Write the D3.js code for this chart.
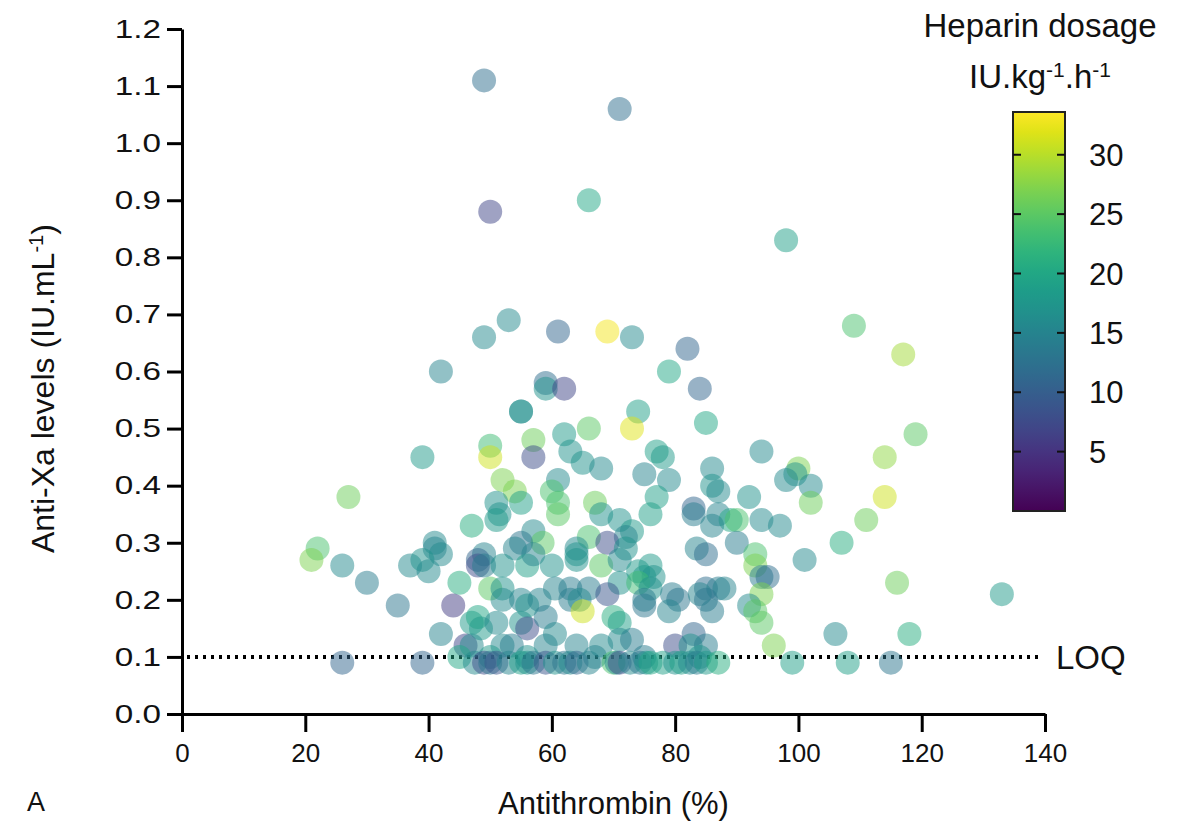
<!DOCTYPE html>
<html>
<head>
<meta charset="utf-8">
<script src="https://cdn.jsdelivr.net/npm/d3@7"></script>
<style>
  body { margin: 0; background: #fff; }
  svg { display: block; }
  text { font-family: "Liberation Sans", Arial, Helvetica, sans-serif; fill: #111; }
</style>
</head>
<body>
<svg id="chart" width="1184" height="828"></svg>
<script>
// Antithrombin activity (%) for each sample
const antithrombin = [
  49, 71, 50, 66, 98, 53, 49, 61, 69, 73, 82, 109, 117, 42, 79, 59, 59, 62, 84, 55,
  55, 74, 85, 50, 73, 57, 62, 66, 94, 119, 50, 39, 57, 63, 65, 77, 78, 75, 68, 86,
  79, 100, 99.5, 98, 114, 102, 52, 61, 86, 87, 54, 60, 77, 27, 114, 102, 67, 51, 61, 55,
  47, 51.5, 61, 68, 76, 83, 83, 87, 92, 89, 90, 94, 86, 97, 111, 107, 71, 73, 51, 57,
  66, 58.5, 72, 69, 72, 90, 55, 54, 41, 41, 42, 49, 64, 64, 83.5, 85, 93, 22, 21, 26,
  30, 35, 37, 39, 40, 48, 48, 49, 52, 56, 57, 60, 64, 68, 71, 74, 76, 75, 76.5, 93,
  94, 95, 101, 45, 50, 52, 60.5, 63, 66, 71, 74, 76, 85, 87, 88, 116, 133, 94, 44, 52,
  55, 56, 58, 63, 64.5, 69, 75, 75, 79.5, 80.5, 84, 85, 86, 92, 93, 94, 79, 42, 47, 48,
  48.5, 51, 55, 56, 59, 60.5, 65, 70, 71, 83, 106, 118, 96, 46, 47, 52, 53.5, 59, 64, 68,
  71, 73, 80, 82.5, 85,
  45, 50, 56, 67, 75, 84,
  26, 39, 47.5, 49, 50, 51, 53, 55, 56, 57, 59, 60.5, 62, 63, 64, 66, 70, 70.5, 71, 72.7,
  74.3, 75.3, 76, 78, 80, 81, 82.4, 83.5, 85, 87, 99, 108, 115
];

// Anti-Xa activity (IU/mL) for each sample
const antiXa = [
  1.11, 1.06, 0.88, 0.90, 0.83, 0.69, 0.66, 0.67, 0.67, 0.66, 0.64, 0.68, 0.63, 0.60, 0.60, 0.58, 0.57, 0.57, 0.57, 0.53,
  0.53, 0.53, 0.51, 0.47, 0.50, 0.48, 0.49, 0.50, 0.46, 0.49, 0.45, 0.45, 0.45, 0.46, 0.44, 0.46, 0.45, 0.42, 0.43, 0.43,
  0.41, 0.43, 0.42, 0.41, 0.45, 0.40, 0.41, 0.41, 0.40, 0.39, 0.39, 0.39, 0.38, 0.38, 0.38, 0.37, 0.37, 0.37, 0.37, 0.37,
  0.33, 0.35, 0.35, 0.35, 0.35, 0.36, 0.35, 0.35, 0.38, 0.34, 0.34, 0.34, 0.33, 0.33, 0.34, 0.30, 0.34, 0.32, 0.34, 0.32,
  0.31, 0.30, 0.31, 0.30, 0.29, 0.30, 0.30, 0.29, 0.30, 0.29, 0.28, 0.28, 0.29, 0.28, 0.29, 0.28, 0.28, 0.29, 0.27, 0.26,
  0.23, 0.19, 0.26, 0.27, 0.25, 0.27, 0.26, 0.26, 0.26, 0.26, 0.28, 0.26, 0.27, 0.26, 0.27, 0.25, 0.26, 0.24, 0.24, 0.26,
  0.24, 0.24, 0.27, 0.23, 0.22, 0.22, 0.22, 0.22, 0.22, 0.23, 0.23, 0.22, 0.22, 0.22, 0.22, 0.23, 0.21, 0.21, 0.19, 0.20,
  0.20, 0.19, 0.20, 0.20, 0.20, 0.21, 0.19, 0.20, 0.21, 0.20, 0.21, 0.20, 0.18, 0.19, 0.18, 0.16, 0.18, 0.14, 0.16, 0.17,
  0.15, 0.16, 0.16, 0.15, 0.17, 0.14, 0.18, 0.17, 0.16, 0.14, 0.14, 0.14, 0.12, 0.12, 0.12, 0.12, 0.12, 0.12, 0.12, 0.12,
  0.13, 0.13, 0.12, 0.12, 0.12,
  0.10, 0.10, 0.10, 0.10, 0.10, 0.10,
  0.09, 0.09, 0.09, 0.09, 0.09, 0.09, 0.09, 0.09, 0.09, 0.09, 0.09, 0.09, 0.09, 0.09, 0.09, 0.09, 0.09, 0.09, 0.09, 0.09,
  0.09, 0.09, 0.09, 0.09, 0.09, 0.09, 0.09, 0.09, 0.09, 0.09, 0.09, 0.09, 0.09
];

// Heparin dosage (IU/kg/h) for each sample
const dosage = [
  12, 12, 7, 20, 19, 16, 16, 11, 33, 16, 11, 24, 29, 15, 20, 12, 17, 7, 11, 16,
  17, 19, 20, 23, 32, 26, 18, 25, 16, 25, 31, 18, 8, 17, 17, 19, 18, 15, 16, 16,
  16, 27, 17, 16, 28, 16, 27, 16, 17, 16, 27, 24, 19, 26, 31, 26, 26, 17, 24, 19,
  21, 17, 25, 17, 19, 11, 14, 15, 17, 20, 24, 16, 15, 16, 26, 21, 17, 18, 18, 16,
  24, 25, 15, 8, 17, 14, 13, 15, 16, 15, 16, 15, 16, 17, 15, 12, 24, 24, 27, 16,
  14, 13, 16, 17, 16, 11, 8, 14, 17, 19, 15, 17, 17, 25, 16, 18, 18, 18, 17, 27,
  14, 12, 16, 21, 25, 17, 15, 14, 14, 17, 23, 17, 12, 14, 15, 26, 18, 27, 6, 16,
  15, 17, 15, 14, 16, 9, 13, 14, 14, 13, 15, 13, 14, 16, 25, 25, 15, 15, 18, 20,
  18, 16, 17, 8, 14, 16, 31, 21, 19, 11, 16, 21, 27, 7, 16, 16, 14, 15, 15, 16,
  16, 14, 8, 17, 14,
  20, 18, 17, 15, 14, 17,
  11, 11, 16, 8, 13, 9, 15, 19, 17, 13, 9, 17, 13, 16, 11, 15, 24, 16, 8, 16,
  13, 17, 20, 19, 17, 19, 16, 14, 18, 21, 19, 19, 13
];

const xTicks = [0, 20, 40, 60, 80, 100, 120, 140];
const yTicks = [0, 0.1, 0.2, 0.3, 0.4, 0.5, 0.6, 0.7, 0.8, 0.9, 1.0, 1.1, 1.2];
const doseTicks = [5, 10, 15, 20, 25, 30];
const doseDomain = [0, 33.6];
const loqLevel = 0.1;

const svg = d3.select("#chart");

const x = d3.scaleLinear().domain([0, 140]).range([182, 1045]);
const y = d3.scaleLinear().domain([0, 1.2]).range([714, 29]);
const color = d3.scaleSequential(d3.interpolateViridis).domain(doseDomain);

// LOQ reference line (drawn beneath the points)
svg.append("line")
  .attr("x1", x(0) + 5).attr("x2", x(140) - 2)
  .attr("y1", y(loqLevel)).attr("y2", y(loqLevel))
  .attr("stroke", "#000")
  .attr("stroke-width", 4)
  .attr("stroke-dasharray", "3,5");

svg.append("text")
  .attr("x", 1056).attr("y", y(loqLevel) + 12)
  .attr("font-size", 33)
  .text("LOQ");

// Points
const samples = antithrombin.map((a, i) => ({ at: a, xa: antiXa[i], dose: dosage[i] }));
svg.append("g")
  .selectAll("circle")
  .data(samples)
  .join("circle")
  .attr("cx", d => x(d.at))
  .attr("cy", d => y(d.xa))
  .attr("r", 12)
  .attr("fill", d => color(d.dose))
  .attr("fill-opacity", 0.5);

// Axes
const yAxis = svg.append("g")
  .attr("transform", `translate(${x(0)},0)`)
  .call(d3.axisLeft(y).tickValues(yTicks).tickFormat(d3.format(".1f")).tickSize(15).tickSizeOuter(0));
yAxis.selectAll("text")
  .attr("x", 0)
  .attr("transform", "translate(-21,0) scale(1.28,1)")
  .attr("font-size", 26)
  .attr("fill", "#111");

const xAxis = svg.append("g")
  .attr("transform", `translate(0,${y(0)})`)
  .call(d3.axisBottom(x).tickValues(xTicks).tickSize(18).tickPadding(12).tickSizeOuter(0));
xAxis.selectAll("text")
  .attr("font-size", 26)
  .attr("fill", "#111");

[yAxis, xAxis].forEach(g => {
  g.select(".domain").attr("stroke", "#000").attr("stroke-width", 3);
  g.selectAll(".tick line").attr("stroke", "#000").attr("stroke-width", 3);
  g.selectAll("text").style("font-family", "'Liberation Sans', Arial, sans-serif");
});

// Axis titles
const yTitle = svg.append("text")
  .attr("transform", `translate(54,${(y(0.27) + y(0.87)) / 2}) rotate(-90)`)
  .attr("text-anchor", "middle")
  .attr("font-size", 32);
yTitle.append("tspan").text("Anti-Xa levels (IU.mL");
yTitle.append("tspan").attr("baseline-shift", "super").attr("font-size", 20).text("-1");
yTitle.append("tspan").text(")");

svg.append("text")
  .attr("x", (x(0) + x(140)) / 2).attr("y", 814)
  .attr("text-anchor", "middle")
  .attr("font-size", 31)
  .text("Antithrombin (%)");

svg.append("text")
  .attr("x", 27).attr("y", 811)
  .attr("font-size", 27)
  .text("A");

// Colour bar
const cb = d3.scaleLinear().domain(doseDomain).range([511, 112]);
const cbX = 1013, cbW = 52;
const defs = svg.append("defs");
const grad = defs.append("linearGradient")
  .attr("id", "doseGradient")
  .attr("x1", 0).attr("y1", 1).attr("x2", 0).attr("y2", 0);
d3.range(0, 1.0001, 0.05).forEach(t => {
  grad.append("stop")
    .attr("offset", t)
    .attr("stop-color", color(doseDomain[0] + t * (doseDomain[1] - doseDomain[0])));
});
svg.append("rect")
  .attr("x", cbX).attr("y", cb(doseDomain[1]))
  .attr("width", cbW).attr("height", cb(doseDomain[0]) - cb(doseDomain[1]))
  .attr("fill", "url(#doseGradient)")
  .attr("stroke", "#222").attr("stroke-width", 2);

const cbTicks = svg.append("g");
cbTicks.selectAll("line.l").data(doseTicks).join("line").attr("class", "l")
  .attr("x1", cbX).attr("x2", cbX + 8)
  .attr("y1", d => cb(d)).attr("y2", d => cb(d))
  .attr("stroke", "#111").attr("stroke-width", 2);
cbTicks.selectAll("line.r").data(doseTicks).join("line").attr("class", "r")
  .attr("x1", cbX + cbW - 8).attr("x2", cbX + cbW)
  .attr("y1", d => cb(d)).attr("y2", d => cb(d))
  .attr("stroke", "#111").attr("stroke-width", 2);
cbTicks.selectAll("text").data(doseTicks).join("text")
  .attr("x", 1089).attr("y", d => cb(d) + 11)
  .attr("font-size", 31)
  .text(d => d);

svg.append("text")
  .attr("x", 1040).attr("y", 37)
  .attr("text-anchor", "middle")
  .attr("font-size", 33)
  .text("Heparin dosage");

const unit = svg.append("text")
  .attr("x", 1040).attr("y", 88)
  .attr("text-anchor", "middle")
  .attr("font-size", 33);
unit.append("tspan").text("IU.kg");
unit.append("tspan").attr("baseline-shift", "super").attr("font-size", 21).text("-1");
unit.append("tspan").text(".h");
unit.append("tspan").attr("baseline-shift", "super").attr("font-size", 21).text("-1");
</script>
</body>
</html>
